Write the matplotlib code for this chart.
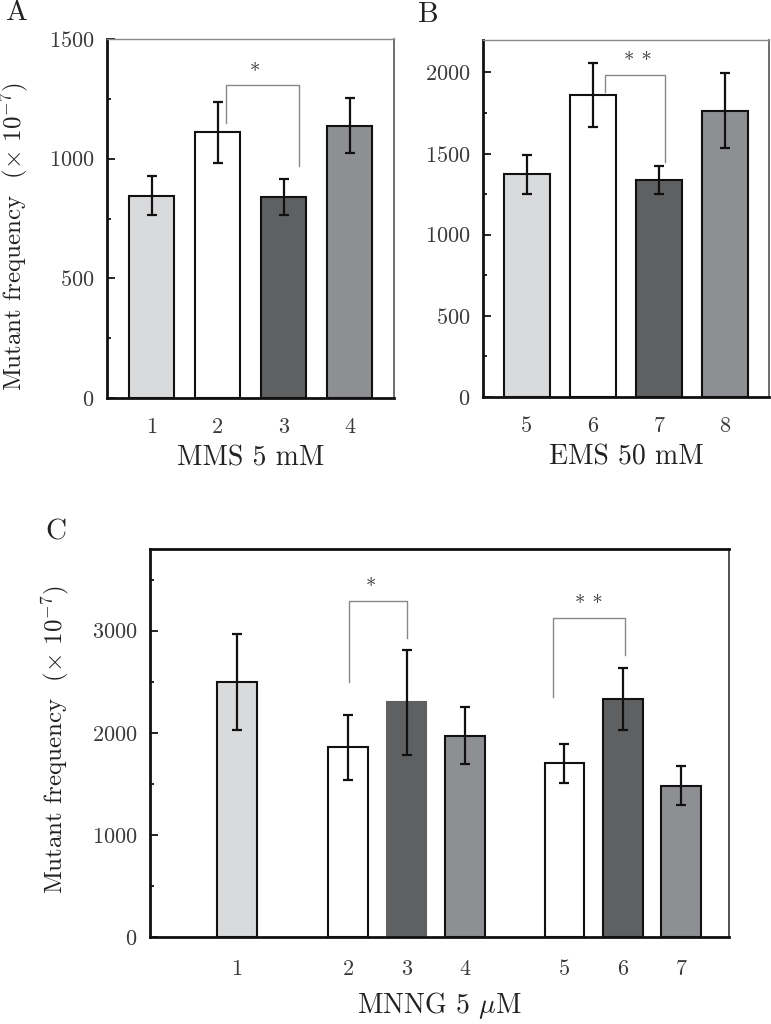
import numpy as np
import matplotlib
matplotlib.use("Agg")
import matplotlib.pyplot as plt
from matplotlib.ticker import MultipleLocator

plt.rcParams["font.family"] = ["cmr10", "DejaVu Serif"]
plt.rcParams["mathtext.fontset"] = "cm"
plt.rcParams["axes.formatter.use_mathtext"] = True

# --- dati --------------------------------------------------------------------
labels_a = ["1", "2", "3", "4"]
mf_a = [845, 1110, 838, 1138]
err_a = [82, 127, 75, 116]

labels_b = ["5", "6", "7", "8"]
mf_b = [1373, 1860, 1338, 1764]
err_b = [121, 199, 85, 231]

labels_c = ["1", "2", "3", "4", "5", "6", "7"]
mf_c = [2495, 1857, 2300, 1971, 1700, 2330, 1483]
err_c = [470, 322, 515, 280, 190, 306, 190]

# brackets di significativita': (y_top, y_leg_sx, y_leg_dx, testo)
sig_a = (1307, 1149, 970, "*")
sig_b = (1987, 1878, 1447, "* *")
sig_c1 = (3290, 2502, 2926, "*")
sig_c2 = (3128, 2352, 2766, "* *")

# --- stile --------------------------------------------------------------------
LIGHT, WHITE, DARK, MID = "#d9dadc", "#ffffff", "#5f6062", "#8e8f93"
cols_ab = [LIGHT, WHITE, DARK, MID]
cols_c = [LIGHT, WHITE, DARK, MID, WHITE, DARK, MID]
TXT = "#222222"
YLAB = r"Mutant frequency  ($\times$ 10$^{-7}$)"

fig = plt.figure(figsize=(7.71, 10.24), dpi=100)
W, H = 771, 1024


def add_ax(l, r, t, b):
    return fig.add_axes([l / W, 1 - b / H, (r - l) / W, (b - t) / H])


def style(ax, major, minor, top_black=False, xpad=15):
    ax.yaxis.set_major_locator(MultipleLocator(major))
    ax.yaxis.set_minor_locator(MultipleLocator(minor))
    ax.tick_params(axis="y", which="major", direction="in", length=6, width=1.2,
                   labelsize=16, labelcolor="#3a3a3a", pad=9)
    ax.tick_params(axis="y", which="minor", direction="in", length=3, width=1.2)
    ax.tick_params(axis="x", length=0, labelsize=16, labelcolor="#3a3a3a", pad=xpad)
    for s in ("left", "bottom"):
        ax.spines[s].set_linewidth(2)
        ax.spines[s].set_color("#111111")
    if top_black:
        ax.spines["top"].set_linewidth(2)
        ax.spines["top"].set_color("#111111")
        ax.spines["right"].set_linewidth(1.3)
        ax.spines["right"].set_color("#444444")
    else:
        ax.spines["top"].set_linewidth(1)
        ax.spines["top"].set_color("#888888")
        ax.spines["right"].set_linewidth(1.2)
        ax.spines["right"].set_color("#555555")


def bracket(ax, x1, x2, sig, tx):
    top, l1, l2, txt = sig
    ax.plot([x1, x1, x2, x2], [l1, top, top, l2], color="#888888", lw=1)
    ax.text(tx, top + (ax.get_ylim()[1] * 0.01), txt, ha="center", va="bottom",
            fontsize=15, color="#333333")


bar_kw = dict(edgecolor="#111111", linewidth=1.5, zorder=2)
err_kw = dict(fmt="none", ecolor="#111111", elinewidth=1.6, capsize=3.5,
              capthick=1.6, zorder=3)

# --- A: MMS -------------------------------------------------------------------
ax = add_ax(107, 394, 39, 398)
xa = np.arange(1, 5)
ax.bar(xa, mf_a, width=0.68, color=cols_ab, **bar_kw)
ax.errorbar(xa, mf_a, yerr=err_a, **err_kw)
ax.set_xlim(0.323, 4.671)
ax.set_ylim(0, 1500)
ax.set_xticks(xa, labels_a)
style(ax, 500, 250, xpad=14)
bracket(ax, xa[1] + 0.13, xa[2] + 0.23, sig_a, 2.565)
ax.set_xlabel("MMS 5 mM", fontsize=20, color=TXT, labelpad=6)
ax.set_ylabel(YLAB, fontsize=18, color=TXT)
ax.yaxis.set_label_coords(-0.265, 0.45)
fig.text(17 / W, 1 - 13 / H, "A", fontsize=21, ha="center", va="center", color=TXT)

# --- B: EMS -------------------------------------------------------------------
ax = add_ax(483, 769, 40, 397)
xb = np.arange(5, 9)
ax.bar(xb, mf_b, width=0.69, color=cols_ab, **bar_kw)
ax.errorbar(xb, mf_b, yerr=err_b, **err_kw)
ax.set_xlim(4.335, 8.668)
ax.set_ylim(0, 2200)
ax.set_xticks(xb, labels_b)
style(ax, 500, 250, xpad=14)
bracket(ax, xb[1] + 0.19, xb[2] + 0.09, sig_b, 6.68)
ax.set_xlabel("EMS 50 mM", fontsize=20, color=TXT, labelpad=6)
fig.text(428 / W, 1 - 15 / H, "B", fontsize=21, ha="center", va="center", color=TXT)

# --- C: MNNG ------------------------------------------------------------------
ax = add_ax(150, 729, 549, 937)
xc = np.array([0, 1.9, 2.9, 3.9, 5.6, 6.6, 7.6])
edges_c = ["#111111", "#111111", DARK, "#111111", "#111111", "#111111", "#111111"]
ax.bar(xc, mf_c, width=0.68, color=cols_c, edgecolor=edges_c, linewidth=1.5, zorder=2)
ax.errorbar(xc, mf_c, yerr=err_c, **err_kw)
ax.set_xlim(-1.487, 8.415)
ax.set_ylim(0, 3800)
ax.set_xticks(xc, labels_c)
style(ax, 1000, 500, top_black=True, xpad=16)
bracket(ax, xc[1] + 0.01, xc[2], sig_c1, 2.285)
bracket(ax, 5.40, 6.63, sig_c2, 6.02)
ax.set_xlabel(r"MNNG 5 $\mu$M", fontsize=20, color=TXT, labelpad=8)
ax.set_ylabel(YLAB, fontsize=18, color=TXT)
ax.yaxis.set_label_coords(-0.135, 0.51)
fig.text(56 / W, 1 - 532 / H, "C", fontsize=21, ha="center", va="center", color=TXT)

fig.savefig("out.png", dpi=100)
